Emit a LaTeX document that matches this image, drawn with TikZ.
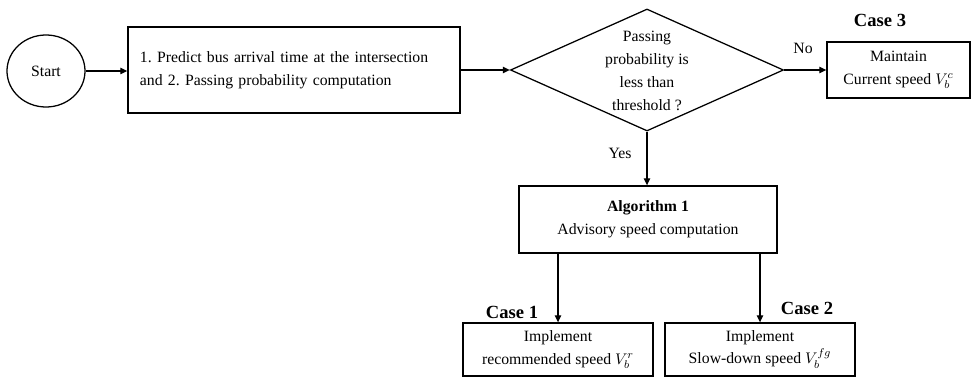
\documentclass[tikz,border=0pt]{standalone}
\usepackage{fontspec}
\setmainfont{Liberation Serif}
\usetikzlibrary{shapes.geometric,arrows.meta}

\tikzset{
  box/.style={draw,line width=0.9pt,inner sep=0pt,align=center,
    font=\fontsize{11.2}{16.2}\selectfont},
  txt/.style={inner sep=0pt,align=center,font=\fontsize{11.2}{15.5}\selectfont},
  case/.style={inner sep=0pt,font=\fontsize{13.2}{15}\selectfont\bfseries},
  arr/.style={line width=0.9pt,-{Triangle[length=5pt,width=4.5pt]}}
}
\frenchspacing

\begin{document}
\begin{tikzpicture}[x=0.025cm,y=-0.025cm]
  \useasboundingbox (0,0) rectangle (972,380);

  \node[box,ellipse,minimum width=1.95cm,minimum height=1.8cm] (start) at (46,71) {Start};
  \node[box,align=left,text width=7.7cm,minimum width=8.3cm,minimum height=2.15cm] (pred) at (294,70)
    {1. Predict bus arrival time at the intersection\\and 2. Passing probability computation};
  \node[box,diamond,minimum width=6.825cm,minimum height=3.05cm] (dec) at (647,70) {};
  \node[txt,font=\fontsize{11.2}{16.2}\selectfont] (dectxt) at (647,71)
    {Passing\\probability is\\less than\\threshold ?};
  \node[box,minimum width=3.575cm,minimum height=1.4cm] (keep) at (898.5,70)
    {Maintain\\Current speed $V_b^c$};
  \node[box,minimum width=6.45cm,minimum height=1.675cm] (alg) at (648,219.5)
    {\textbf{Algorithm 1}\\Advisory speed computation};
  \node[box,minimum width=4.75cm,minimum height=1.325cm] (rec) at (558,349.5)
    {Implement\\recommended speed $V_b^r$};
  \node[box,minimum width=4.75cm,minimum height=1.325cm] (slow) at (760,349.5)
    {Implement\\Slow-down speed $V_b^{fg}$};

  \node[txt] (no) at (803,48) {No};
  \node[txt] (yes) at (620,153) {Yes};
  \node[case] (c3) at (880,20) {Case 3};
  \node[case] (c1) at (512,312) {Case 1};
  \node[case] (c2) at (807,308) {Case 2};

  \draw[arr] (start.east) -- (pred.west |- start.east);
  \draw[arr] (pred.east) -- (dec.west);
  \draw[arr] (dec.east) -- (keep.west);
  \draw[arr] (dec.south) -- (dec.south |- alg.north);
  \draw[arr] (rec |- alg.south) -- (rec.north);
  \draw[arr] (slow |- alg.south) -- (slow.north);
\end{tikzpicture}
\end{document}
